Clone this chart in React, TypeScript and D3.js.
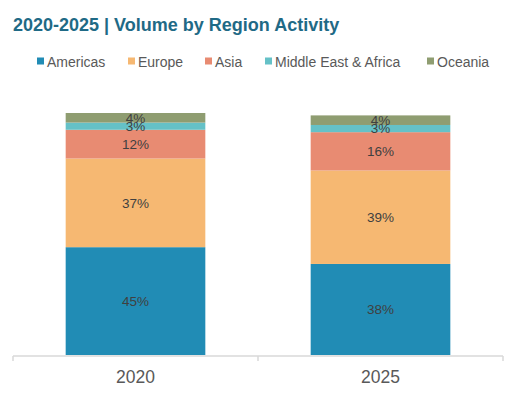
import * as d3 from 'd3';
import { useEffect, useRef } from 'react';

const years = ['2020', '2025'];
const regions = ['Americas', 'Europe', 'Asia', 'Middle East & Africa', 'Oceania'];
const colors = ['#218CB5', '#F6B872', '#E88B72', '#65C1C7', '#8F9D71'];
const americas = [45, 38];
const europe = [37, 39];
const asia = [12, 16];
const middleEastAfrica = [3, 3];
const oceania = [4, 4];

const width = 520;
const height = 393;

export default function App() {
  const ref = useRef<SVGSVGElement | null>(null);

  useEffect(() => {
    const series = [americas, europe, asia, middleEastAfrica, oceania];
    const rows = years.map((year, i) => {
      const row: any = { year };
      regions.forEach((r, j) => (row[r] = series[j][i]));
      return row;
    });
    const stacked = d3.stack().keys(regions)(rows);
    const maxTotal = d3.max(rows, (r) => d3.sum(regions, (k) => r[k]));

    const x = d3.scaleBand().domain(years).range([13, 503]).paddingInner(0.43).paddingOuter(0.215);
    const y = d3.scaleLinear().domain([0, maxTotal]).range([355, 113]);
    const color = d3.scaleOrdinal(regions, colors);

    const svg = d3.select(ref.current);
    svg.selectAll('*').remove();
    svg.attr('width', width).attr('height', height).style('font-family', 'Arial, "Liberation Sans", sans-serif');

    svg
      .append('text')
      .attr('x', 13)
      .attr('y', 30.5)
      .attr('font-size', 18)
      .attr('font-weight', 'bold')
      .attr('fill', '#1F6A86')
      .text('2020-2025 | Volume by Region Activity');

    // legend
    const legendX = [37, 128, 205, 265, 427];
    const legend = svg
      .append('g')
      .selectAll('g')
      .data(regions)
      .join('g')
      .attr('transform', (_, i) => `translate(${legendX[i]},57.5)`);
    legend.append('rect').attr('width', 7).attr('height', 7).attr('fill', (d) => color(d));
    legend
      .append('text')
      .attr('x', 10)
      .attr('y', 9.5)
      .attr('font-size', 14)
      .attr('fill', '#595959')
      .text((d) => d);

    // bars
    const groups = svg
      .append('g')
      .selectAll('g')
      .data(stacked)
      .join('g')
      .attr('fill', (d) => color(d.key));
    groups
      .selectAll('rect')
      .data((d) => d)
      .join('rect')
      .attr('x', (d) => x(d.data.year))
      .attr('width', x.bandwidth())
      .attr('y', (d) => y(d[1]))
      .attr('height', (d) => y(d[0]) - y(d[1]));

    // segment labels
    svg
      .append('g')
      .selectAll('text')
      .data(stacked.flatMap((s) => s.map((d) => ({ d, key: s.key }))))
      .join('text')
      .attr('x', (o) => x(o.d.data.year) + x.bandwidth() / 2)
      .attr('y', (o) => (y(o.d[0]) + y(o.d[1])) / 2)
      .attr('dy', '0.35em')
      .attr('text-anchor', 'middle')
      .attr('font-size', 13.5)
      .attr('fill', '#404040')
      .text((o) => `${o.d[1] - o.d[0]}%`);

    // x axis
    const axis = svg.append('g');
    axis
      .append('line')
      .attr('x1', 13)
      .attr('x2', 503)
      .attr('y1', 356)
      .attr('y2', 356)
      .attr('stroke', '#D9D9D9')
      .attr('stroke-width', 1.5);
    const tickXs = [0, 1, 2].map((i) => 13 + x.step() * i);
    axis
      .selectAll('line.tick')
      .data(tickXs)
      .join('line')
      .attr('class', 'tick')
      .attr('x1', (d) => d)
      .attr('x2', (d) => d)
      .attr('y1', 356)
      .attr('y2', 361)
      .attr('stroke', '#D9D9D9')
      .attr('stroke-width', 1.5);
    axis
      .selectAll('text')
      .data(years)
      .join('text')
      .attr('x', (d) => x(d) + x.bandwidth() / 2)
      .attr('y', 383)
      .attr('text-anchor', 'middle')
      .attr('font-size', 17.5)
      .attr('fill', '#595959')
      .text((d) => d);
  }, []);

  return <svg ref={ref} style={{ position: 'absolute', left: 0, top: 0 }} />;
}
